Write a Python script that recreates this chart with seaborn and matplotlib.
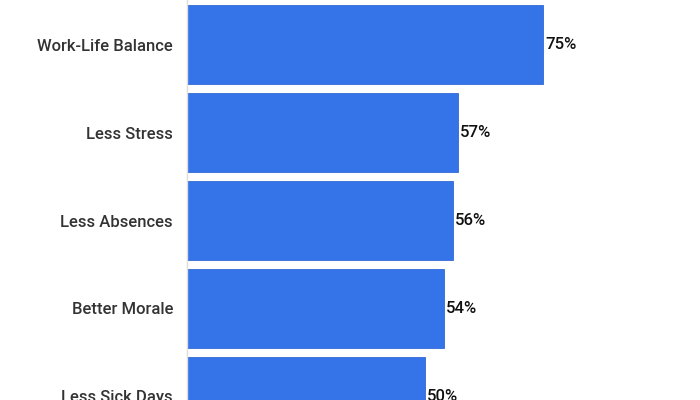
import matplotlib
matplotlib.use("Agg")
import matplotlib.pyplot as plt
import seaborn as sns
import pandas as pd

# values (bottom bar is cut by the frame)
benefits = ["Work-Life Balance", "Less Stress", "Less Absences", "Better Morale", "Less Sick Days"]
shares = [75, 57, 56, 54, 50]

df = pd.DataFrame({"benefit": benefits, "share": shares})

sns.set_style("white")
plt.rcParams["font.family"] = ["Roboto", "DejaVu Sans"]

fig = plt.figure(figsize=(7, 4), dpi=100)
ax = fig.add_axes([187 / 700, 0, 513 / 700, 1])

sns.barplot(data=df, x="share", y="benefit", orient="h", color="#3473E8",
            width=0.9, saturation=1, edgecolor="#3268D6", linewidth=0.6, ax=ax)

for i, v in enumerate(shares):
    ax.text(v + 0.5, i, f"{v}%", va="center", ha="left",
            fontsize=12, fontweight="medium", color="#111111")

ax.set_xlim(0, 108)
ax.set_ylim(4.04, -0.506)
ax.set_xlabel("")
ax.set_ylabel("")
ax.set_xticks([])
ax.tick_params(axis="y", length=0, pad=10, labelsize=12, labelcolor="#333333")
for lab in ax.get_yticklabels():
    lab.set_fontweight("medium")

for s in ["top", "right", "bottom"]:
    ax.spines[s].set_visible(False)
ax.spines["left"].set_color("#dddddd")
ax.spines["left"].set_linewidth(1)

fig.savefig("out.png", dpi=100)
